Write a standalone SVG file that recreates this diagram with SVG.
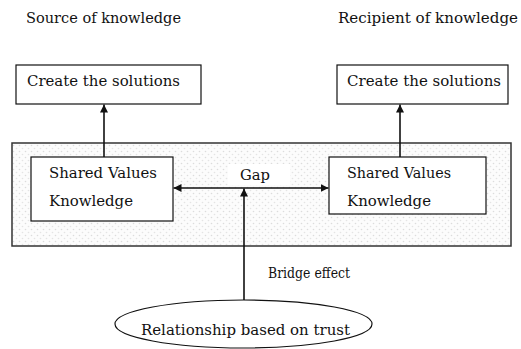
<svg xmlns="http://www.w3.org/2000/svg" width="521" height="349" viewBox="0 0 521 349">
<style>
text{font-family:'DejaVu Serif',serif;font-size:15px;fill:#111}
.box{fill:#fff;stroke:#111;stroke-width:1.2}
.ln{stroke:#111;stroke-width:1.6;fill:none}
</style>
<defs>
<pattern id="dots" width="6" height="6" patternUnits="userSpaceOnUse">
<rect width="6" height="6" fill="#fcfcfc"/>
<circle cx="1.5" cy="1.5" r="0.8" fill="#dcdcdc"/>
<circle cx="4.5" cy="4.5" r="0.8" fill="#e4e4e4"/>
</pattern>
<marker id="ah" viewBox="0 0 10 10" refX="10" refY="5" markerWidth="8" markerHeight="8" markerUnits="userSpaceOnUse" orient="auto-start-reverse">
<path d="M0,0 L10,5 L0,10 z" fill="#111"/>
</marker>
</defs>
<text x="26" y="23" textLength="155" lengthAdjust="spacingAndGlyphs">Source of knowledge</text>
<text x="338" y="23" textLength="180" lengthAdjust="spacingAndGlyphs">Recipient of knowledge</text>
<g id="container">
<rect x="12" y="143" width="499" height="103" fill="url(#dots)" stroke="#333" stroke-width="1.5"/>
<rect x="228" y="164" width="62" height="21" fill="#fff"/>
</g>
<g id="create-left">
<rect class="box" x="16" y="65" width="185" height="39"/>
<text x="27" y="86" textLength="153" lengthAdjust="spacingAndGlyphs">Create the solutions</text>
</g>
<g id="create-right">
<rect class="box" x="337" y="65" width="171" height="39"/>
<text x="347" y="86" textLength="154" lengthAdjust="spacingAndGlyphs">Create the solutions</text>
</g>
<g id="values-left">
<rect class="box" x="31" y="157" width="142" height="64"/>
<text x="49" y="178" textLength="108" lengthAdjust="spacingAndGlyphs">Shared Values</text>
<text x="49" y="206" textLength="84" lengthAdjust="spacingAndGlyphs">Knowledge</text>
</g>
<g id="values-right">
<rect class="box" x="329" y="157" width="157" height="57"/>
<text x="347" y="178" textLength="104" lengthAdjust="spacingAndGlyphs">Shared Values</text>
<text x="347" y="206" textLength="84" lengthAdjust="spacingAndGlyphs">Knowledge</text>
</g>
<g id="gap-label">
<text x="240" y="180" textLength="30" lengthAdjust="spacingAndGlyphs">Gap</text>
</g>
<g id="trust">
<ellipse cx="243.5" cy="324" rx="128.5" ry="24" fill="#fff" stroke="#111" stroke-width="1.2"/>
<text x="141" y="335" textLength="209" lengthAdjust="spacingAndGlyphs">Relationship based on trust</text>
</g>
<g id="bridge-label">
<text x="268" y="278" textLength="82" lengthAdjust="spacingAndGlyphs">Bridge effect</text>
</g>
<g id="connectors">
<line class="ln" x1="104" y1="157" x2="104" y2="104.5" marker-end="url(#ah)"/>
<line class="ln" x1="400" y1="157" x2="400" y2="104.5" marker-end="url(#ah)"/>
<line class="ln" x1="173.5" y1="188" x2="328.5" y2="188" marker-start="url(#ah)" marker-end="url(#ah)"/>
<line class="ln" x1="244" y1="300" x2="244" y2="188.5" marker-end="url(#ah)"/>
</g>
</svg>
